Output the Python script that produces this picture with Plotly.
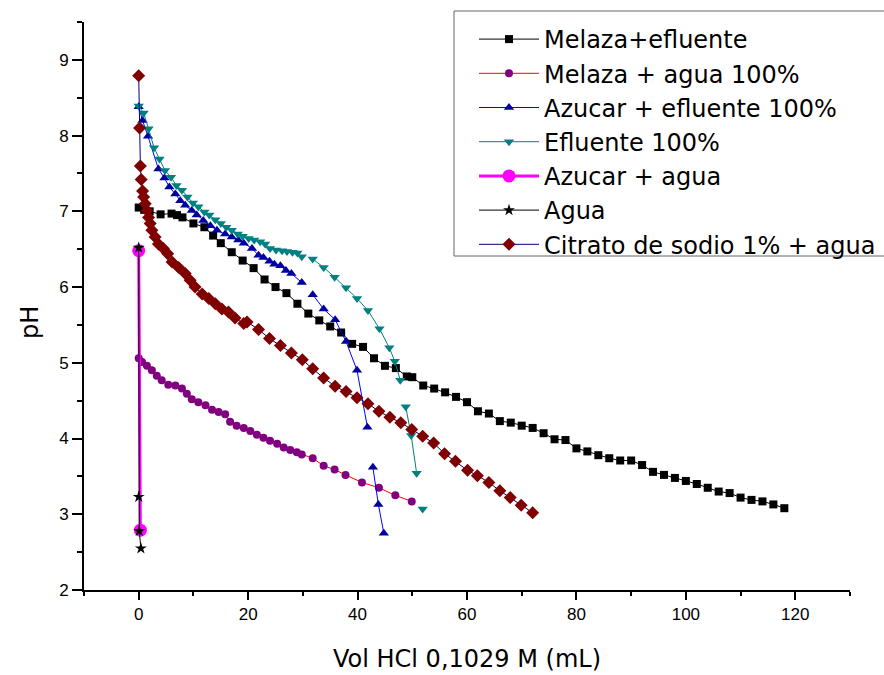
import plotly.graph_objects as go

# ---------------- data ----------------
mel_ef_x = [0, 1, 2, 4, 6, 7, 8, 10, 12, 13.6, 15, 17, 19, 21, 23, 25, 27, 29, 31, 33, 35, 37, 39, 41, 43,
            45, 47, 49, 50, 52, 54, 56, 58, 60, 62, 64, 66, 68, 70, 72, 74, 76, 78, 80, 82, 84, 86, 88, 90,
            92, 94, 96, 98, 100, 102, 104, 106, 108, 110, 112, 114, 116, 118]
mel_ef_y = [7.05, 7.02, 7.00, 6.96, 6.97, 6.95, 6.92, 6.84, 6.79, 6.68, 6.58, 6.46, 6.35, 6.25, 6.10, 6.00,
            5.92, 5.78, 5.65, 5.56, 5.48, 5.40, 5.25, 5.21, 5.06, 4.96, 4.93, 4.82, 4.81, 4.70, 4.66, 4.61,
            4.55, 4.48, 4.36, 4.33, 4.23, 4.21, 4.17, 4.14, 4.07, 3.99, 3.98, 3.87, 3.83, 3.78, 3.74, 3.71,
            3.71, 3.65, 3.56, 3.52, 3.48, 3.44, 3.40, 3.35, 3.30, 3.28, 3.22, 3.19, 3.17, 3.13, 3.08]

mel_ag_x = [0, 0.6, 1.5, 2.4, 3.3, 4.2, 5.4, 6.7, 7.9, 8.8, 9.7, 10.9, 12.2, 13.4, 14.6, 15.8, 16.7, 17.9,
            19.2, 20.4, 21.6, 22.8, 24, 25.3, 26.5, 27.7, 28.9, 29.8, 31.8, 33.8, 35.8, 37.8, 40.8, 43.9,
            46.9, 49.9]
mel_ag_y = [5.06, 5.01, 4.96, 4.90, 4.83, 4.77, 4.71, 4.70, 4.66, 4.59, 4.52, 4.48, 4.44, 4.38, 4.35, 4.32,
            4.22, 4.17, 4.14, 4.10, 4.05, 4.01, 3.97, 3.93, 3.88, 3.85, 3.82, 3.79, 3.74, 3.64, 3.59, 3.52,
            3.42, 3.35, 3.25, 3.17]

az_ef_x = [0, 0.7, 1.7, 3.6, 4.7, 5.6, 6.7, 7.6, 8.5, 9.7, 10.6, 11.8, 13.1, 14.3, 15.8, 17.0, 18.2, 19.2,
           20.7, 21.9, 22.8, 23.9, 24.8, 25.9, 26.9, 27.9, 29.8, None, 31.8, 33.8, 35.9, 37.9, 39.9, 41.8,
           None, 42.8, 43.8, 44.8]
az_ef_y = [8.38, 8.20, 7.99, 7.56, 7.44, 7.32, 7.23, 7.14, 7.08, 7.01, 6.95, 6.88, 6.81, 6.75, 6.70, 6.66,
           6.62, 6.58, 6.51, 6.42, 6.39, 6.34, 6.30, 6.28, 6.22, 6.18, 6.06, None, 5.90, 5.71, 5.57, 5.28,
           4.90, 4.15, None, 3.62, 3.13, 2.75]

eflu_x = [0, 0.9, 1.8, 2.8, 3.8, 4.8, 5.9, 6.9, 7.9, 8.9, 9.9, 10.9, 12.0, 12.9, 14.0, 15.0, 16.0, 17.0,
          18.1, 19.0, 20.1, 21.1, 22.2, 23.1, 24.0, 25.1, 26.2, 27.1, 28.1, 29.0, 29.8, None, 31.8, 33.8,
          35.8, 37.9, 39.9, 41.9, 44.0, 45.8, 46.8, 47.8, None, 48.8, 49.8, 50.8, None, 51.9]
eflu_y = [8.39, 8.30, 8.09, 7.84, 7.69, 7.54, 7.45, 7.34, 7.28, 7.19, 7.11, 7.06, 6.99, 6.95, 6.89, 6.84,
          6.79, 6.75, 6.70, 6.67, 6.64, 6.62, 6.60, 6.57, 6.51, 6.49, 6.48, 6.47, 6.46, 6.45, 6.40, None,
          6.37, 6.26, 6.13, 5.99, 5.85, 5.69, 5.45, 5.20, 5.02, 4.77, None, 4.42, 4.04, 3.54, None, 3.07]

az_ag_x = [0, 0.3]
az_ag_y = [6.48, 2.79]

agua_x = [0, 0, 0.1, 0.4]
agua_y = [6.52, 3.23, 2.78, 2.55]

cit_x = [0, 0.15, 0.3, 0.45, 0.7, 0.9, 1.2, 1.5, 1.8, 2.1, 2.4, 3.0, 3.6, 4.5, 5.3, 6.1, 7.3, 8.5, 9.4, 10.3,
         11.6, 12.8, 14, 15.2, 16.4, 17.6, 19.2, 19.8, 21.9, 23.9, 25.9, 27.9, 29.9, 31.8, 33.8, 35.9, 37.9,
         39.9, 41.9, 43.9, 45.9, 47.9, 49.9, 51.9, 53.9, 55.9, 57.9, 60.1, 61.9, 64, 66, 67.9, 69.9, 72]
cit_y = [8.79, 8.10, 7.60, 7.42, 7.27, 7.19, 7.10, 7.01, 6.92, 6.84, 6.75, 6.66, 6.57, 6.51, 6.44, 6.33, 6.26,
         6.18, 6.09, 6.00, 5.91, 5.85, 5.78, 5.71, 5.67, 5.59, 5.52, 5.54, 5.44, 5.32, 5.23, 5.13, 5.04, 4.92,
         4.80, 4.69, 4.62, 4.54, 4.46, 4.36, 4.28, 4.21, 4.12, 4.03, 3.94, 3.80, 3.70, 3.58, 3.51, 3.42, 3.31,
         3.22, 3.12, 3.02]

names = ["Melaza+efluente", "Melaza + agua 100%", "Azucar + efluente 100%", "Efluente 100%",
         "Azucar + agua", "Agua", "Citrato de sodio 1% + agua"]

# ---------------- figure ----------------
fig = go.Figure()

def add(x, y, name, lcolor, mcolor, symbol, msize, lwidth=1):
    fig.add_trace(go.Scatter(
        x=x, y=y, name=name, mode="lines+markers",
        line=dict(color=lcolor, width=lwidth),
        marker=dict(color=mcolor, symbol=symbol, size=msize, line=dict(width=0)),
        connectgaps=False,
    ))

add(mel_ef_x, mel_ef_y, names[0], "#000000", "#000000", "square", 8)
add(mel_ag_x, mel_ag_y, names[1], "#FF0000", "#800080", "circle", 8)
add(az_ef_x, az_ef_y, names[2], "#0000FF", "#00009F", "triangle-up", 9)
add(eflu_x, eflu_y, names[3], "#008080", "#008080", "triangle-down", 9)
add(az_ag_x, az_ag_y, names[4], "#FF00FF", "#FF00FF", "circle", 13, lwidth=3)
add(agua_x, agua_y, names[5], "#000000", "#000000", "star", 9)
add(cit_x, cit_y, names[6], "#000080", "#800000", "diamond", 10)

font_family = "Arial, 'Liberation Sans', sans-serif"
wide_family = "'DejaVu Sans', Arial, sans-serif"

L, R, T, B = 84, 34, 22, 85
W, H = 884, 675
pw, ph = W - L - R, H - T - B

def px_to_paper_x(px):
    return (px - L) / pw

def px_to_paper_y(py):
    return (H - B - py) / ph

fig.update_layout(
    width=W, height=H,
    margin=dict(l=L, r=R, t=T, b=B, autoexpand=False),
    paper_bgcolor="white", plot_bgcolor="white",
    font=dict(family=font_family, color="black", size=17),
    showlegend=True,
    legend=dict(
        x=px_to_paper_x(474), y=px_to_paper_y(17), xanchor="left", yanchor="top",
        bgcolor="rgba(0,0,0,0)", borderwidth=0,
        font=dict(size=24, family=wide_family),
        itemwidth=60,
    ),
    shapes=[dict(
        type="rect", xref="paper", yref="paper",
        x0=px_to_paper_x(454), x1=px_to_paper_x(900),
        y0=px_to_paper_y(256), y1=px_to_paper_y(11),
        line=dict(color="#666666", width=1), fillcolor="white", layer="above",
    )],
    annotations=[dict(
        text="pH", textangle=-90, showarrow=False,
        xref="paper", yref="paper", x=px_to_paper_x(30), y=px_to_paper_y(322),
        xanchor="center", yanchor="middle",
        font=dict(size=24, family=wide_family, color="black"),
    )],
)

fig.update_xaxes(
    range=[-10, 130], dtick=20, tick0=0,
    showline=True, linecolor="black", linewidth=2,
    ticks="outside", ticklen=8, tickwidth=2, tickcolor="black",
    minor=dict(dtick=10, tick0=0, ticks="outside", ticklen=4, tickwidth=2, tickcolor="black"),
    showgrid=False, zeroline=False,
    tickfont=dict(size=17),
    title=dict(text="Vol HCl 0,1029 M (mL)", font=dict(size=24, family=wide_family), standoff=27),
)
fig.update_yaxes(
    range=[2, 9.5], dtick=1, tick0=0,
    showline=True, linecolor="black", linewidth=2,
    ticks="outside", ticklen=10, tickwidth=2, tickcolor="black",
    minor=dict(dtick=0.5, tick0=0, ticks="outside", ticklen=5, tickwidth=2, tickcolor="black"),
    showgrid=False, zeroline=False,
    tickfont=dict(size=17),
)

fig.write_html("out.html", config={"displayModeBar": False},
               post_script="document.body.style.margin='0';")
